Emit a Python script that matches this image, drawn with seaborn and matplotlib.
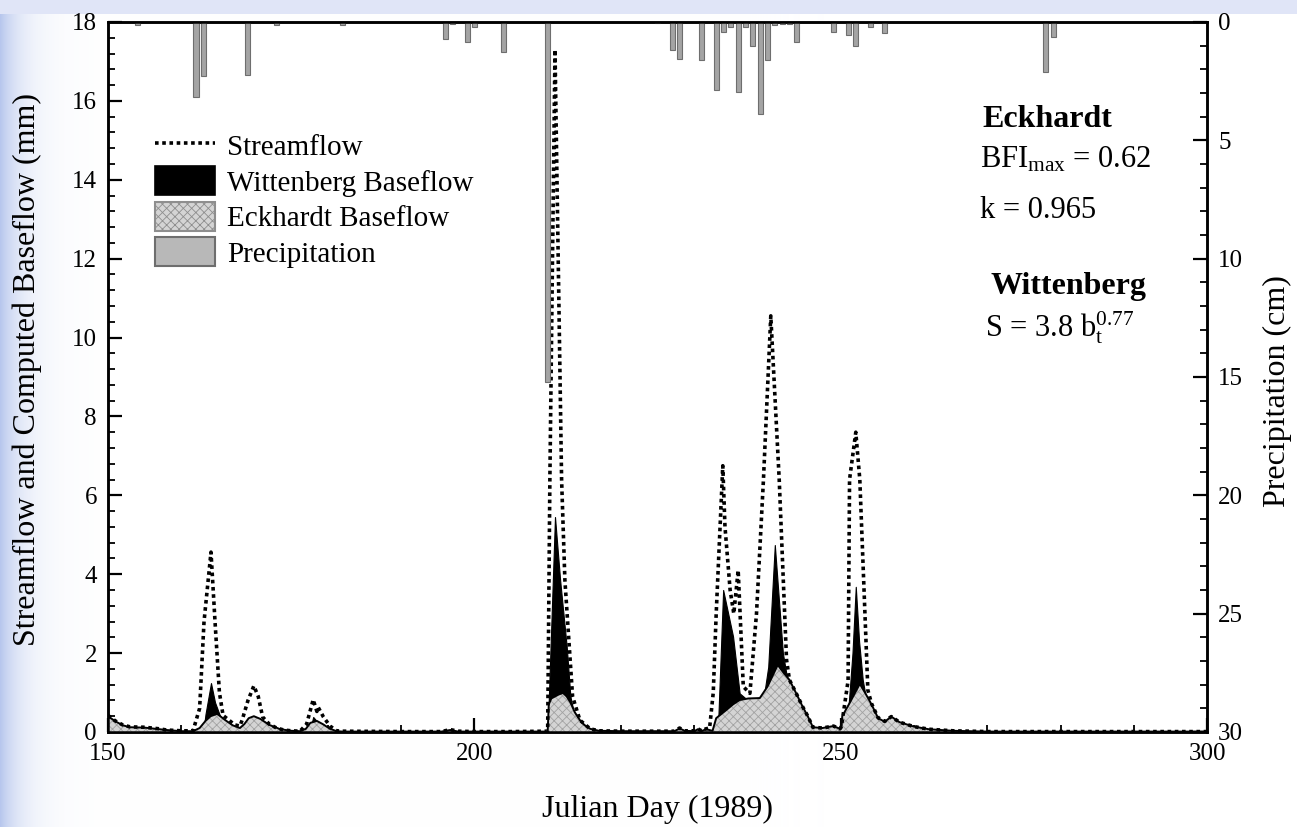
import numpy as np
import matplotlib
matplotlib.use("Agg")
import matplotlib.pyplot as plt
from matplotlib.patches import Patch
from matplotlib.lines import Line2D
from matplotlib.ticker import MultipleLocator
import seaborn as sns

# ---- streamflow (mm) ----
stream_day = [150, 151, 152, 153, 155, 157, 158, 160, 161.6,
              162.5, 163.1, 164.05, 164.6, 165.2, 165.7, 166.5, 167.3, 168.0,
              168.3, 169.1, 169.9, 170.5, 171.1, 172, 173, 174, 175, 176.2,
              177.1, 178.0, 178.5, 178.7, 179.4, 180.3, 181.2, 182, 190,
              195.5, 196.7, 197.8, 200, 205, 210.0,
              210.3, 211.0, 211.9, 212.35, 213.4, 214.4, 215.8, 217, 220,
              227.3, 228.0, 228.7, 230.0, 230.5, 231.0, 231.6, 232.1,
              232.6, 233.0, 233.9, 234.2, 234.9, 235.4, 236.0, 236.7, 237.6,
              238.5, 239.45, 240.45, 241.6, 242.6, 243.0, 244.0, 244.8, 245.5,
              246.2, 247.5, 249.0, 249.9, 250.1,
              251.0, 251.2, 252.05, 252.6, 253.7, 254.2, 255.1, 256.0, 256.9,
              258.0, 259.9, 262, 265.3, 270, 280, 290, 300]
stream_mm = [0.42, 0.28, 0.18, 0.13, 0.12, 0.08, 0.05, 0.03, 0.03,
             0.6, 2.8, 4.56, 2.8, 1.0, 0.42, 0.3, 0.18, 0.15,
             0.3, 0.8, 1.17, 0.9, 0.38, 0.2, 0.1, 0.05, 0.03, 0.02,
             0.2, 0.82, 0.52, 0.62, 0.38, 0.15, 0.03, 0.02, 0.01,
             0.01, 0.06, 0.02, 0.01, 0.01, 0.02,
             6.4, 17.3, 6.4, 3.85, 0.9, 0.3, 0.08, 0.03, 0.02,
             0.02, 0.1, 0.03, 0.03, 0.08, 0.03, 0.08, 0.1,
             1.0, 3.0, 6.75, 5.2, 3.6, 3.0, 4.1, 1.15, 0.98,
             3.0, 6.4, 10.55, 6.4, 1.83, 1.32, 0.95, 0.64, 0.4,
             0.12, 0.1, 0.15, 0.08, 0.15,
             1.3, 6.4, 7.6, 6.4, 1.06, 0.72, 0.36, 0.27, 0.39,
             0.25, 0.14, 0.07, 0.03, 0.01, 0.01, 0.01, 0.01]

# ---- Eckhardt baseflow (mm) ----
eck_day = [150, 151, 152, 153, 155, 157, 158, 160, 161.6,
           162.5, 163.3, 164.0, 164.9, 166.0, 167.0, 168.0, 168.6, 169.2,
           169.9, 170.8, 172.0, 173.5, 175, 176.2, 177.0, 177.6, 178.5,
           179.3, 180.3, 181.2, 182, 190, 195.5, 196.7, 197.8, 205, 210.0,
           210.15, 210.5, 211.0, 211.5, 212.1, 212.6, 213.1, 213.7, 214.4,
           215.0, 215.8, 217, 220, 227.3, 228.0, 228.7, 230.0, 230.5, 231.0,
           231.6, 232.5,
           233.0, 234.4, 235.3, 236.2, 237.4, 238.95, 240.0, 241.4, 242.2,
           243.0, 244.0, 244.8, 245.5, 246.2, 247.5, 249.0, 249.9, 250.1,
           250.2, 251.2, 252.6, 253.3, 254.2, 255.1, 256.0, 256.9, 258.0,
           259.9, 262, 265.3, 270, 300]
eck_mm = [0.40, 0.27, 0.17, 0.12, 0.11, 0.07, 0.05, 0.02, 0.02,
          0.1, 0.28, 0.4, 0.46, 0.3, 0.17, 0.1, 0.2, 0.35,
          0.4, 0.33, 0.18, 0.07, 0.03, 0.02, 0.08, 0.23, 0.28,
          0.2, 0.08, 0.02, 0.01, 0.01, 0.01, 0.05, 0.01, 0.01, 0.01,
          0.7, 0.85, 0.9, 0.95, 0.99, 0.9, 0.75, 0.5, 0.3,
          0.18, 0.08, 0.03, 0.02, 0.02, 0.09, 0.03, 0.02, 0.07, 0.02,
          0.07, 0.03,
          0.35, 0.56, 0.7, 0.81, 0.85, 0.86, 1.15, 1.7, 1.5,
          1.32, 0.95, 0.64, 0.4, 0.12, 0.1, 0.15, 0.08, 0.1,
          0.4, 0.73, 1.22, 1.0, 0.7, 0.35, 0.26, 0.39, 0.25,
          0.14, 0.07, 0.03, 0.01, 0.01]

# ---- Wittenberg baseflow (mm) ----
witt_day = [150, 163.0, 163.3, 164.05, 164.6, 165.3, 166, 167,
            177.5, 178.0, 178.6, 179.3,
            210.0, 211.0, 211.7, 212.6, 213.1, 213.5, 214.0, 215.0, 216,
            233.1, 233.3, 233.95, 235.3, 236.2, 237.35, 239.5, 240.1, 241.0,
            242.1, 242.6, 243.2, 244, 245,
            250.8, 251.0, 251.6, 252.05, 252.5, 253.0, 253.4, 254, 255, 300]
witt_mm = [0, 0, 0.45, 1.24, 0.75, 0.40, 0.2, 0,
           0, 0.38, 0.25, 0,
           0, 5.45, 3.85, 2.16, 0.9, 0.55, 0.3, 0.1, 0,
           0, 0.4, 3.6, 2.42, 0.98, 0.8, 0.9, 1.65, 4.74,
           2.0, 1.45, 1.0, 0.5, 0,
           0, 0.5, 2.0, 3.68, 2.3, 1.32, 0.9, 0.5, 0, 0]

# ---- daily precipitation (cm) ----
rain_day = [154, 162, 163, 169, 173, 182, 196, 197, 199, 200, 204, 210,
            225, 227, 228, 231, 233, 234, 235, 236, 237, 238, 239, 240,
            241, 242, 243, 244, 249, 251, 252, 254, 256, 278, 279]
rain_cm = [0.13, 3.18, 2.27, 2.24, 0.13, 0.13, 0.73, 0.1, 0.83, 0.2, 1.25, 15.2,
           0.05, 1.2, 1.57, 1.6, 2.88, 0.41, 0.2, 2.94, 0.2, 1.01, 3.89, 1.6,
           0.13, 0.1, 0.1, 0.83, 0.41, 0.55, 1.01, 0.2, 0.45, 2.1, 0.63]

sns.set_theme(style="ticks")
plt.rcParams['font.family'] = ['Liberation Serif', 'DejaVu Serif']
plt.rcParams['mathtext.fontset'] = 'custom'
plt.rcParams['mathtext.rm'] = 'Liberation Serif'
plt.rcParams['mathtext.it'] = 'Liberation Serif:italic'
plt.rcParams['mathtext.bf'] = 'Liberation Serif:bold'
plt.rcParams['hatch.linewidth'] = 0.6
for key in ('text.color', 'axes.labelcolor', 'xtick.color', 'ytick.color'):
    plt.rcParams[key] = 'black'

fig = plt.figure(figsize=(12.97, 8.27), dpi=100, facecolor='white')

# slide-like background: bluish strip on the left, lavender band on top
bg = fig.add_axes([0, 0, 1, 1], zorder=-10)
H, W = 827, 1297
yy, xx = np.mgrid[0:H, 0:W]
img = np.ones((H, W, 3))
left_w = np.exp(-xx / 22.0)[..., None]
img = img * (1 - left_w) + np.array([0.72, 0.78, 0.93]) * left_w
top_w = (yy < 14)[..., None] * 1.0
img = img * (1 - top_w) + np.array([0.88, 0.90, 0.97]) * top_w
bg.imshow(img, aspect='auto')
bg.axis('off')

ax = fig.add_axes([0.0833, 0.1149, 0.8474, 0.8585])
ax.set_facecolor('white')

ax.fill_between(witt_day, 0, witt_mm, facecolor='black', edgecolor='black',
                linewidth=0.8, zorder=2)
ax.fill_between(eck_day, 0, eck_mm, facecolor='#d4d4d4', edgecolor='#a2a2a2',
                hatch='xxxx', linewidth=0, zorder=3)
sns.lineplot(x=eck_day, y=eck_mm, ax=ax, color='black', linewidth=1.4,
             estimator=None, sort=False, zorder=4)
sns.lineplot(x=stream_day, y=stream_mm, ax=ax, color='black', linewidth=2.6,
             linestyle=(0, (1, 1)), estimator=None, sort=False, zorder=5)

ax.set_xlim(150, 300)
ax.set_ylim(0, 18)
ax.xaxis.set_major_locator(MultipleLocator(50))
ax.xaxis.set_minor_locator(MultipleLocator(10))
ax.yaxis.set_major_locator(MultipleLocator(2))
ax.yaxis.set_minor_locator(MultipleLocator(0.4))

ax2 = ax.twinx()
ax2.bar(rain_day, rain_cm, width=0.7, color='#a4a4a4', edgecolor='#6e6e6e',
        linewidth=0.8, zorder=2)
ax2.set_ylim(30, 0)
ax2.yaxis.set_major_locator(MultipleLocator(5))
ax2.yaxis.set_minor_locator(MultipleLocator(1))

for a in (ax, ax2):
    for s in a.spines.values():
        s.set_linewidth(1.8)
        s.set_color('black')
        s.set_visible(True)
ax.tick_params(axis='both', which='major', direction='in', length=10, width=1.6,
               labelsize=18, colors='black', pad=8, right=False, top=False)
ax.tick_params(axis='both', which='minor', direction='in', length=5, width=1.3,
               right=False, top=False)
ax2.tick_params(axis='y', which='major', direction='in', length=10, width=1.6,
                labelsize=18, colors='black', pad=8)
ax2.tick_params(axis='y', which='minor', direction='in', length=5, width=1.3)

ax.set_xlabel('Julian Day (1989)', fontsize=23)
ax.set_ylabel('Streamflow and Computed Baseflow (mm)', fontsize=23)
ax2.set_ylabel('Precipitation (cm)', fontsize=23)
ax.xaxis.set_label_coords(0.5, -0.088)
ax.yaxis.set_label_coords(-0.06, 0.51)
ax2.yaxis.set_label_coords(1.051, 0.48)

handles = [
    Line2D([], [], color='black', linewidth=2.6, linestyle=(0, (1, 1))),
    Patch(facecolor='black', edgecolor='black', linewidth=1.2),
    Patch(facecolor='#d4d4d4', edgecolor='#8e8e8e', hatch='xxxx', linewidth=1.5),
    Patch(facecolor='#b8b8b8', edgecolor='#6e6e6e', linewidth=1.5),
]
labels = ['Streamflow', 'Wittenberg Baseflow', 'Eckhardt Baseflow', 'Precipitation']
ax2.legend(handles, labels, loc='upper left', bbox_to_anchor=(0.043, 0.847),
           frameon=False, fontsize=21, handlelength=2.05, handleheight=1.15,
           handletextpad=0.4, labelspacing=0.18, borderpad=0, borderaxespad=0)

ax2.text(0.855, 0.862, 'Eckhardt', transform=ax2.transAxes, fontsize=23,
         fontweight='bold', ha='center', va='center')
ax2.text(0.793, 0.806, r'BFI$_{\mathrm{max}}$ = 0.62', transform=ax2.transAxes,
         fontsize=22, ha='left', va='center')
ax2.text(0.793, 0.735, 'k = 0.965', transform=ax2.transAxes, fontsize=22,
         ha='left', va='center')
ax2.text(0.8735, 0.627, 'Wittenberg', transform=ax2.transAxes, fontsize=23,
         fontweight='bold', ha='center', va='center')
ax2.text(0.798, 0.570, r'S = 3.8 b$_{\mathrm{t}}^{\mathrm{0.77}}$',
         transform=ax2.transAxes, fontsize=22, ha='left', va='center')

fig.savefig('out.png', dpi=100, facecolor=fig.get_facecolor())
